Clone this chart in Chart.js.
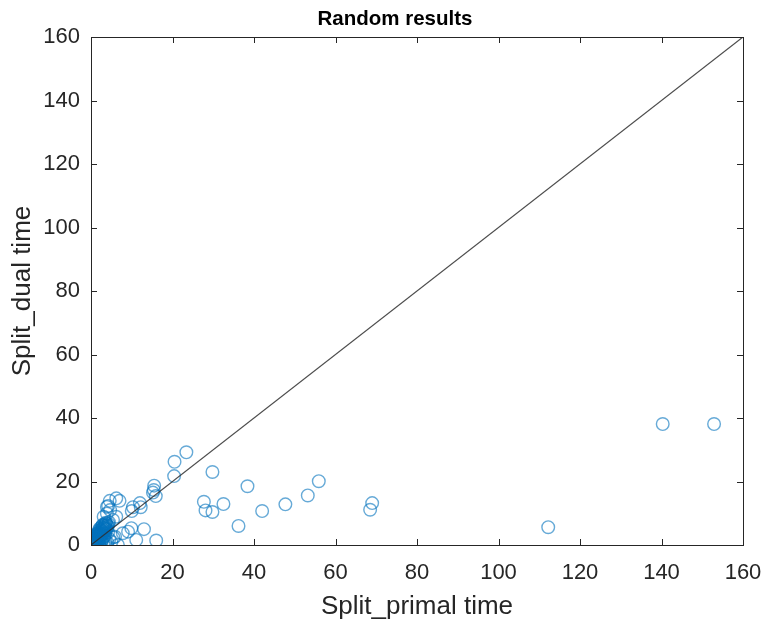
<!DOCTYPE html>
<html>
<head>
<meta charset="utf-8">
<title>Random results</title>
<script src="https://cdn.jsdelivr.net/npm/chart.js@4.4.1/dist/chart.umd.min.js"></script>
<style>
  body { margin: 0; background: #fff; }
  #wrap { width: 764px; height: 622px; }
</style>
</head>
<body>
<div id="wrap"><canvas id="scatterChart" width="764" height="622"></canvas></div>
<script>
// split_primal time (x) vs split_dual time (y)
const primalTimes = [
  0.1, 0.2, 0.3, 0.4, 0.5, 0.6, 0.7, 0.8, 0.9, 1.0, 1.1, 1.2, 1.3, 1.4, 1.5, 1.6, 1.7, 1.8, 1.9, 2.0,
  2.1, 2.2, 2.3, 2.4, 2.5, 2.6, 2.7, 2.8, 2.9, 3.0, 3.1, 3.2, 3.3, 3.4, 3.5, 3.6, 3.8, 4.0, 4.2, 4.4,
  0.3, 0.6, 1.0, 1.5, 2.0, 2.5, 0.5, 1.0, 1.5, 2.0, 2.5, 3.0, 3.5, 4.0, 4.5, 5.0, 5.5, 0.2, 0.8,
  0.4, 0.7, 1.1, 1.3, 1.7, 1.9, 2.2, 2.4, 2.6, 2.8, 3.0, 3.3, 3.5, 3.7, 3.9, 4.1, 1.2, 1.8, 2.3, 2.7,
  3.2, 0.9, 1.4, 2.1, 2.9, 3.4, 3.6, 4.3, 0.6, 1.6,
  3.1, 3.9, 3.9, 4.2, 4.6, 4.7, 5.4, 6.2, 6.2, 7.0, 5.9, 6.6, 7.8, 9.1, 9.9, 11.1, 13.0, 16.0,
  10.0, 10.3, 12.0, 12.2, 15.2, 15.5, 15.4, 15.9, 20.4, 20.5, 23.4, 29.8, 38.4, 27.7, 28.1, 29.8,
  32.5, 36.2, 42.0, 47.7, 53.2, 55.9, 69.0, 68.5, 112.2, 140.3, 152.9
];
const dualTimes = [
  0.1, 0.3, 0.2, 0.6, 0.4, 0.9, 0.5, 1.2, 0.8, 1.5, 1.0, 1.8, 0.7, 2.1, 1.4, 2.5, 1.2, 2.8, 1.9, 3.2,
  2.4, 3.6, 1.6, 4.0, 2.9, 4.4, 3.3, 5.0, 2.2, 5.5, 3.8, 6.0, 4.6, 6.5, 3.0, 7.0, 5.3, 6.2, 4.0, 7.2,
  1.0, 1.8, 2.6, 3.4, 4.6, 5.6, 0.1, 0.3, 0.2, 0.5, 0.9, 0.4, 1.2, 0.8, 1.8, 1.0, 2.4, 0.0, 0.1,
  1.3, 1.5, 2.2, 1.9, 3.0, 3.9, 2.9, 4.8, 3.7, 6.1, 4.3, 5.4, 6.0, 6.8, 4.9, 5.8, 0.6, 1.0, 2.0, 1.5,
  2.6, 2.0, 2.9, 5.1, 6.4, 3.6, 5.0, 6.6, 0.3, 3.7,
  8.9, 9.9, 12.0, 12.3, 13.9, 11.0, 7.9, 8.9, 14.7, 13.9, 2.6, 0.0, 3.7, 4.2, 5.3, 1.6, 5.0, 1.4,
  10.7, 11.9, 13.2, 11.9, 16.5, 18.7, 17.3, 15.4, 21.7, 26.2, 29.2, 23.0, 18.5, 13.6, 10.9, 10.4,
  12.9, 6.0, 10.7, 12.8, 15.6, 20.1, 13.2, 11.1, 5.6, 38.1, 38.1
];
const tickValues = [0, 20, 40, 60, 80, 100, 120, 140, 160];
const diagonalEnds = [0, 160];

const axisColor = '#262626';
const points = primalTimes.map((x, i) => ({ x: x, y: dualTimes[i] }));
const diagonal = diagonalEnds.map(v => ({ x: v, y: v }));

// MATLAB-like box with inward ticks on all four sides
const boxPlugin = {
  id: 'boxPlugin',
  afterDraw(chart) {
    const { ctx, chartArea: a, scales } = chart;
    const len = 6;
    ctx.save();
    ctx.strokeStyle = axisColor;
    ctx.lineWidth = 1;
    ctx.strokeRect(Math.round(a.left) + 0.5, Math.round(a.top) + 0.5,
      Math.round(a.right - a.left), Math.round(a.bottom - a.top));
    ctx.beginPath();
    tickValues.forEach(v => {
      const px = Math.round(scales.x.getPixelForValue(v)) + 0.5;
      const py = Math.round(scales.y.getPixelForValue(v)) + 0.5;
      ctx.moveTo(px, a.bottom); ctx.lineTo(px, a.bottom - len);
      ctx.moveTo(px, a.top); ctx.lineTo(px, a.top + len);
      ctx.moveTo(a.left, py); ctx.lineTo(a.left + len, py);
      ctx.moveTo(a.right, py); ctx.lineTo(a.right - len, py);
    });
    ctx.stroke();
    ctx.fillStyle = '#000';
    ctx.font = 'bold 20.5px "Liberation Sans", Arial, sans-serif';
    ctx.textAlign = 'center';
    ctx.textBaseline = 'alphabetic';
    ctx.fillText('Random results', 395, 25);
    ctx.restore();
  }
};

const tickFont = { family: '"Liberation Sans", Arial, sans-serif', size: 22 };
const labelFont = { family: '"Liberation Sans", Arial, sans-serif', size: 26, lineHeight: 1.2 };

new Chart(document.getElementById('scatterChart'), {
  type: 'scatter',
  data: {
    datasets: [
      {
        type: 'line',
        data: diagonal,
        borderColor: 'rgba(45,45,45,0.85)',
        borderWidth: 1.2,
        pointRadius: 0,
        fill: false,
      },
      {
        data: points,
        pointStyle: 'circle',
        pointRadius: 6.3,
        pointBorderWidth: 1.4,
        pointBorderColor: 'rgba(0,114,189,0.6)',
        pointBackgroundColor: 'rgba(0,0,0,0)',
      },
    ],
  },
  options: {
    responsive: false,
    animation: false,
    layout: { padding: { top: 37, right: 21, left: 0, bottom: 0 } },
    plugins: {
      legend: { display: false },
      tooltip: { enabled: false },
    },
    scales: {
      x: {
        type: 'linear',
        min: 0,
        max: 160,
        afterFit: s => { s.height = 77; s.paddingLeft = 0; s.paddingRight = 0; },
        afterBuildTicks: s => { s.ticks = tickValues.map(v => ({ value: v })); },
        grid: { display: false, drawTicks: false },
        border: { display: false },
        ticks: { color: axisColor, font: tickFont, padding: 15, maxRotation: 0 },
        title: { display: true, text: 'Split_primal time', color: axisColor, font: labelFont, padding: { top: 0, bottom: 0 } },
      },
      y: {
        type: 'linear',
        min: 0,
        max: 160,
        afterFit: s => { s.width = 91; s.paddingTop = 0; s.paddingBottom = 0; },
        afterBuildTicks: s => { s.ticks = tickValues.map(v => ({ value: v })); },
        grid: { display: false, drawTicks: false },
        border: { display: false },
        ticks: { color: axisColor, font: tickFont, padding: 11 },
        title: { display: true, text: 'Split_dual time', color: axisColor, font: labelFont, padding: { top: 7, bottom: 0 } },
      },
    },
  },
  plugins: [boxPlugin],
});
</script>
</body>
</html>
